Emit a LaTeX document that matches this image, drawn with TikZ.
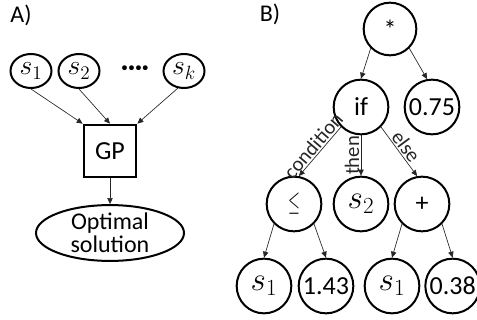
\documentclass[tikz,border=0pt]{standalone}
\usepackage{fontspec}
\usepackage{graphicx}
\setmainfont{Carlito}
\usetikzlibrary{arrows.meta,positioning,shapes.geometric}

\begin{document}
\begin{tikzpicture}[
  x=0.75pt,y=-0.75pt,
  on grid,
  every node/.style={font=\fontsize{19.5}{21}\selectfont},
  leafA/.style={draw,ellipse,line width=1.5pt,inner sep=0pt,minimum width=30.75pt,minimum height=25.5pt,font=\fontsize{20}{22}\selectfont},
  op/.style={draw,circle,line width=1.5pt,inner sep=0pt,minimum size=41pt},
  var/.style={op,font=\fontsize{24}{26}\selectfont},
  gpbox/.style={draw,line width=1.5pt,minimum size=39.5pt,inner sep=0pt},
  arr/.style={-{Triangle[length=4.5pt,width=4pt]},line width=0.5pt,black!85},
  lbl/.style={font=\fontsize{15.5}{16}\selectfont,inner sep=1pt},
  panel/.style={font=\fontsize{18}{20}\selectfont}
]
\useasboundingbox (0,0) rectangle (477,320);

% A) sources feeding GP
\node[panel] (labA) at (21,15) {A)};
\node[leafA] (s1) at (31,71) {$s_1$};
\node[leafA,right=36pt of s1] (s2) {$s_2$};
\node[right=42pt of s2] (dots) {\textbf{····}};
\node[leafA,right=78.75pt of s2] (sk) {$s_k$};
\node[gpbox] (gp) at (110,151) {GP};
\node[draw,ellipse,line width=1.5pt,minimum width=111pt,minimum height=35.25pt,inner sep=0pt,align=center,
  font=\fontsize{18}{17}\selectfont,below=61.5pt of gp] (opt) {Optimal\\solution};
\draw[arr] (s1.south)--(gp.north west);
\draw[arr] (s2.south)--(gp.north);
\draw[arr] (sk.250)--(gp.north east);
\draw[arr] (gp)--(opt);

% B) expression tree
\node[panel] (labB) at (270,14) {B)};
\node[op,minimum size=39.5pt] (times) at (390,29) {*};
\node[op,below left=58.5pt and 21.75pt of times] (if) {if};
\node[op,below right=58.5pt and 31.5pt of times] (c75) {0.75};
\node[op,below left=72.75pt and 50.25pt of if] (le) {\scalebox{0.55}[1]{$\leq$}};
\node[var,below=72.75pt of if] (s2b) {$s_2$};
\node[op,below right=72.75pt and 45.75pt of if] (plus) {+};
\node[var,below left=61.5pt and 22.5pt of le] (s1a) {$s_1$};
\node[op,below right=61.5pt and 24pt of le] (c143) {1.43};
\node[var,below left=61.5pt and 22.5pt of plus] (s1b) {$s_1$};
\node[op,below right=61.5pt and 23pt of plus] (c038) {0.38};
\draw[arr] (times.south west)--(if.north);
\draw[arr] (times.south east)--(c75.100);
\draw[arr] (if.south west)--node[lbl,sloped,above]{condition}(le.80);
\draw[arr] (if.south)--node[lbl,rotate=90,anchor=south]{then}(s2b.north);
\draw[arr] (if.south east)--node[lbl,sloped,above]{else}(plus.100);
\draw[arr] (le.south west)--(s1a.north);
\draw[arr] (le.south east)--(c143.north);
\draw[arr] (plus.south west)--(s1b.north);
\draw[arr] (plus.south east)--(c038.north);
\end{tikzpicture}
\end{document}
